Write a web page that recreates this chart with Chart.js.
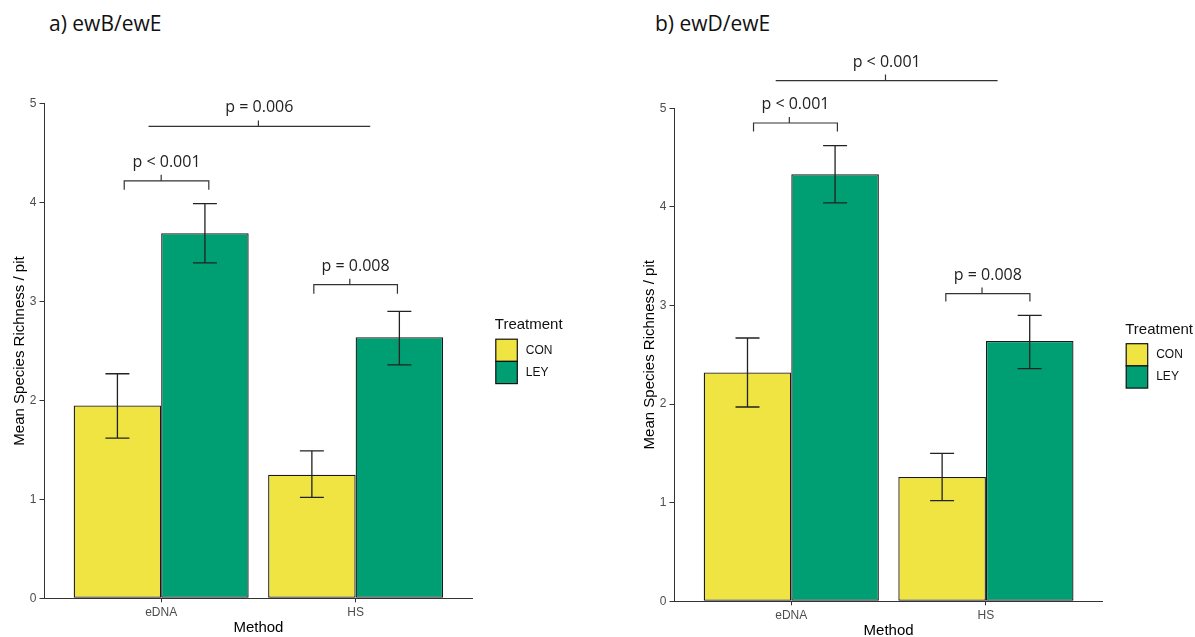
<!DOCTYPE html>
<html>
<head>
<meta charset="utf-8">
<title>Mean species richness per pit</title>
<script src="https://cdn.jsdelivr.net/npm/chart.js@4.4.1/dist/chart.umd.min.js"></script>
<style>
  html, body { margin: 0; padding: 0; background: #fff; overflow: hidden; }
  body { width: 1195px; height: 637px; position: relative; }
  .panel { position: absolute; }
  .title { position: absolute; font-family: 'Open Sans', sans-serif; font-size: 21px; line-height: 1; color: #111; white-space: nowrap; }
</style>
</head>
<body>
<div class="title" style="left:49px; top:13px">a) ewB/ewE</div>
<div class="title" style="left:655px; top:13px">b) ewD/ewE</div>
<div class="panel" style="left:0; top:0; width:600px; height:637px"><canvas id="chart-a"></canvas></div>
<div class="panel" style="left:630px; top:3px; width:565px; height:637px"><canvas id="chart-b"></canvas></div>
<script>
'use strict';
Chart.defaults.font.family = "'Liberation Sans', Arial, sans-serif";
Chart.defaults.animation = false;

var methods = ['eDNA', 'HS'];
var methodPos = [1, 2];
var treatments = ['CON', 'LEY'];
var treatmentColors = ['#F0E442', '#009E73'];

// a) ewB/ewE  - mean and error bar ends per method
var conA = [1.95, 1.25];
var conLowA = [1.62, 1.02];
var conHighA = [2.27, 1.49];
var leyA = [3.69, 2.64];
var leyLowA = [3.39, 2.36];
var leyHighA = [3.99, 2.90];

// b) ewD/ewE
var conB = [2.32, 1.26];
var conLowB = [1.97, 1.02];
var conHighB = [2.67, 1.50];
var leyB = [4.33, 2.64];
var leyLowB = [4.04, 2.36];
var leyHighB = [4.62, 2.90];

// significance brackets (x in method units, y in richness units)
var sigLabelsA = ['p < 0.001', 'p = 0.008', 'p = 0.006'];
var sigFromA = [0.81, 1.785, 0.935];
var sigToA = [1.245, 2.215, 2.075];
var sigTickA = [1.0, 1.97, 1.5];
var sigLevelA = [4.22, 3.17, 4.77];
var sigTipA = [0.09, 0.09, 0];

var sigLabelsB = ['p < 0.001', 'p = 0.008', 'p < 0.001'];
var sigFromB = [0.806, 1.794, 0.92];
var sigToB = [1.237, 2.226, 2.06];
var sigTickB = [0.99, 1.98, 1.484];
var sigLevelB = [4.85, 3.12, 5.28];
var sigTipB = [0.085, 0.08, 0];

function barData(values, low, high, i) {
  return {
    label: treatments[i],
    data: methodPos.map(function (p, j) { return { x: p, y: values[j] }; }),
    errLow: low,
    errHigh: high,
    backgroundColor: treatmentColors[i],
    borderColor: '#1a1a1a',
    borderWidth: 1.3,
    borderSkipped: false,
    categoryPercentage: 0.9,
    barPercentage: 1
  };
}

var errorBarPlugin = {
  id: 'errorBars',
  afterDatasetsDraw: function (chart) {
    var ctx = chart.ctx;
    var y = chart.scales.y;
    ctx.save();
    ctx.strokeStyle = '#222';
    ctx.lineWidth = 1.3;
    chart.data.datasets.forEach(function (ds, di) {
      chart.getDatasetMeta(di).data.forEach(function (bar, i) {
        var half = bar.width * 0.137;
        var top = y.getPixelForValue(ds.errHigh[i]);
        var bottom = y.getPixelForValue(ds.errLow[i]);
        ctx.beginPath();
        ctx.moveTo(bar.x, top); ctx.lineTo(bar.x, bottom);
        ctx.moveTo(bar.x - half, top); ctx.lineTo(bar.x + half, top);
        ctx.moveTo(bar.x - half, bottom); ctx.lineTo(bar.x + half, bottom);
        ctx.stroke();
      });
    });
    ctx.restore();
  }
};

function bracketPlugin(labels, from, to, tick, level, tip) {
  return {
    id: 'brackets',
    afterDraw: function (chart) {
      var ctx = chart.ctx, x = chart.scales.x, y = chart.scales.y;
      ctx.save();
      ctx.strokeStyle = '#333';
      ctx.lineWidth = 1.2;
      ctx.fillStyle = '#222';
      ctx.font = "16px 'Open Sans'";
      ctx.textAlign = 'center';
      ctx.textBaseline = 'alphabetic';
      for (var i = 0; i < labels.length; i++) {
        var x1 = x.getPixelForValue(from[i]);
        var x2 = x.getPixelForValue(to[i]);
        var xm = x.getPixelForValue(tick[i]);
        var yl = y.getPixelForValue(level[i]);
        var yt = y.getPixelForValue(level[i] - tip[i]);
        ctx.beginPath();
        ctx.moveTo(x1, yt); ctx.lineTo(x1, yl); ctx.lineTo(x2, yl); ctx.lineTo(x2, yt);
        ctx.moveTo(xm, yl); ctx.lineTo(xm, yl - 6);
        ctx.stroke();
        ctx.fillText(labels[i], (x1 + x2) / 2, yl - 14);
      }
      ctx.restore();
    }
  };
}

// legend drawn like the ggplot key: touching boxes with outline
var keyPlugin = {
  id: 'treatmentKey',
  afterDraw: function (chart) {
    var ctx = chart.ctx, area = chart.chartArea;
    var left = area.right + 23.5, top = area.top + 235.5, size = 22.2;
    ctx.save();
    ctx.fillStyle = '#111';
    ctx.font = "15px 'Liberation Sans'";
    ctx.textAlign = 'left';
    ctx.textBaseline = 'alphabetic';
    ctx.fillText('Treatment', left - 1, top - 10);
    ctx.font = "12px 'Liberation Sans'";
    ctx.textBaseline = 'middle';
    chart.data.datasets.forEach(function (ds, i) {
      var t = top + i * size;
      ctx.fillStyle = ds.backgroundColor;
      ctx.fillRect(left, t, 21.5, size);
      ctx.strokeStyle = '#111';
      ctx.lineWidth = 1.2;
      ctx.strokeRect(left, t, 21.5, size);
      ctx.fillStyle = '#111';
      ctx.fillText(ds.label, left + 30, t + size / 2);
    });
    ctx.restore();
  }
};

function makeChart(id, datasets, brackets, padTop, padRight) {
  return new Chart(document.getElementById(id), {
    type: 'bar',
    data: { datasets: datasets },
    options: {
      responsive: true,
      maintainAspectRatio: false,
      layout: { padding: { top: padTop, right: padRight, bottom: 0, left: 0 } },
      plugins: { legend: { display: false }, tooltip: { enabled: false } },
      scales: {
        x: {
          type: 'linear',
          min: 0.4,
          max: 2.6,
          offset: false,
          afterBuildTicks: function (s) { s.ticks = methodPos.map(function (v) { return { value: v }; }); },
          afterFit: function (s) { s.height = 38.7; },
          ticks: {
            callback: function (v) { return methods[methodPos.indexOf(v)]; },
            color: '#4d4d4d', font: { size: 12 }, padding: 3, maxRotation: 0, autoSkip: false
          },
          grid: { drawOnChartArea: false, drawTicks: true, tickLength: 4, color: '#333', offset: false },
          border: { color: '#333', width: 1 },
          title: { display: true, text: 'Method', color: '#000', font: { size: 15 }, padding: 0 }
        },
        y: {
          min: 0,
          max: 5,
          afterFit: function (s) { s.width = 44.5; },
          ticks: { stepSize: 1, color: '#4d4d4d', font: { size: 12 }, padding: 3 },
          grid: { drawOnChartArea: false, tickLength: 5, color: '#333' },
          border: { color: '#333', width: 1 },
          title: { display: true, text: 'Mean Species Richness / pit', color: '#000', font: { size: 15 }, padding: { top: 10.6, bottom: 0 } }
        }
      }
    },
    plugins: [errorBarPlugin, brackets, keyPlugin]
  });
}

makeChart('chart-a', [
  barData(conA, conLowA, conHighA, 0),
  barData(leyA, leyLowA, leyHighA, 1)
], bracketPlugin(sigLabelsA, sigFromA, sigToA, sigTickA, sigLevelA, sigTipA), 103.7, 127.7);

makeChart('chart-b', [
  barData(conB, conLowB, conHighB, 0),
  barData(leyB, leyLowB, leyHighB, 1)
], bracketPlugin(sigLabelsB, sigFromB, sigToB, sigTickB, sigLevelB, sigTipB), 105.2, 92.3);
</script>
</body>
</html>
